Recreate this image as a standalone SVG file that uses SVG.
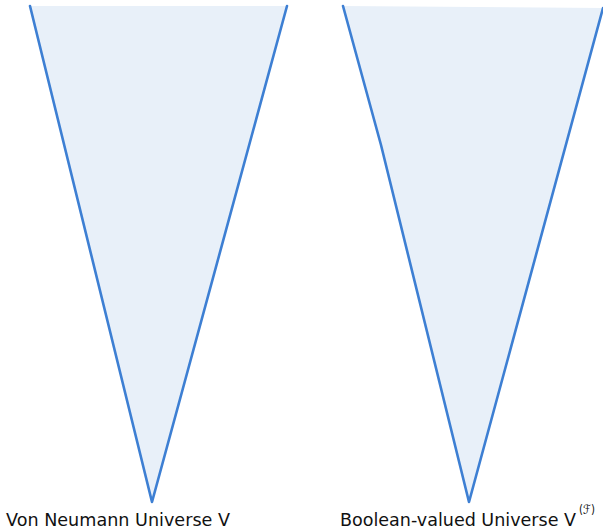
<svg xmlns="http://www.w3.org/2000/svg" width="603" height="529" viewBox="0 0 603 529">
<style>
.tri{fill:#e8f0f9;stroke:none}
.edge{fill:none;stroke:#3d7fd3;stroke-width:2.6;stroke-linecap:round;stroke-linejoin:round}
.lbl{font-family:"DejaVu Sans","Liberation Sans",sans-serif;font-size:18px;fill:#111}
.sup{font-family:"DejaVu Sans","Liberation Sans",sans-serif;font-size:13px;fill:#111}
</style>
<rect width="603" height="529" fill="#fff"/>
<g id="von-neumann">
<polygon class="tri" points="30,6 287,6 152,502"/>
<polyline class="edge" points="30,6 152,502 287,6"/>
<text class="lbl" x="6" y="526" textLength="224" lengthAdjust="spacingAndGlyphs">Von Neumann Universe V</text>
</g>
<g id="boolean-valued">
<polygon class="tri" points="343,6 603,8 469,502 381,145"/>
<polyline class="edge" points="343,6 381,145 469,502 603,8"/>
<text class="lbl" x="340" y="526" textLength="236" lengthAdjust="spacingAndGlyphs">Boolean-valued Universe V</text>
<text class="sup" x="579" y="514" textLength="16" lengthAdjust="spacingAndGlyphs">(ℱ)</text>
</g>
<g id="connectors"></g>
</svg>
